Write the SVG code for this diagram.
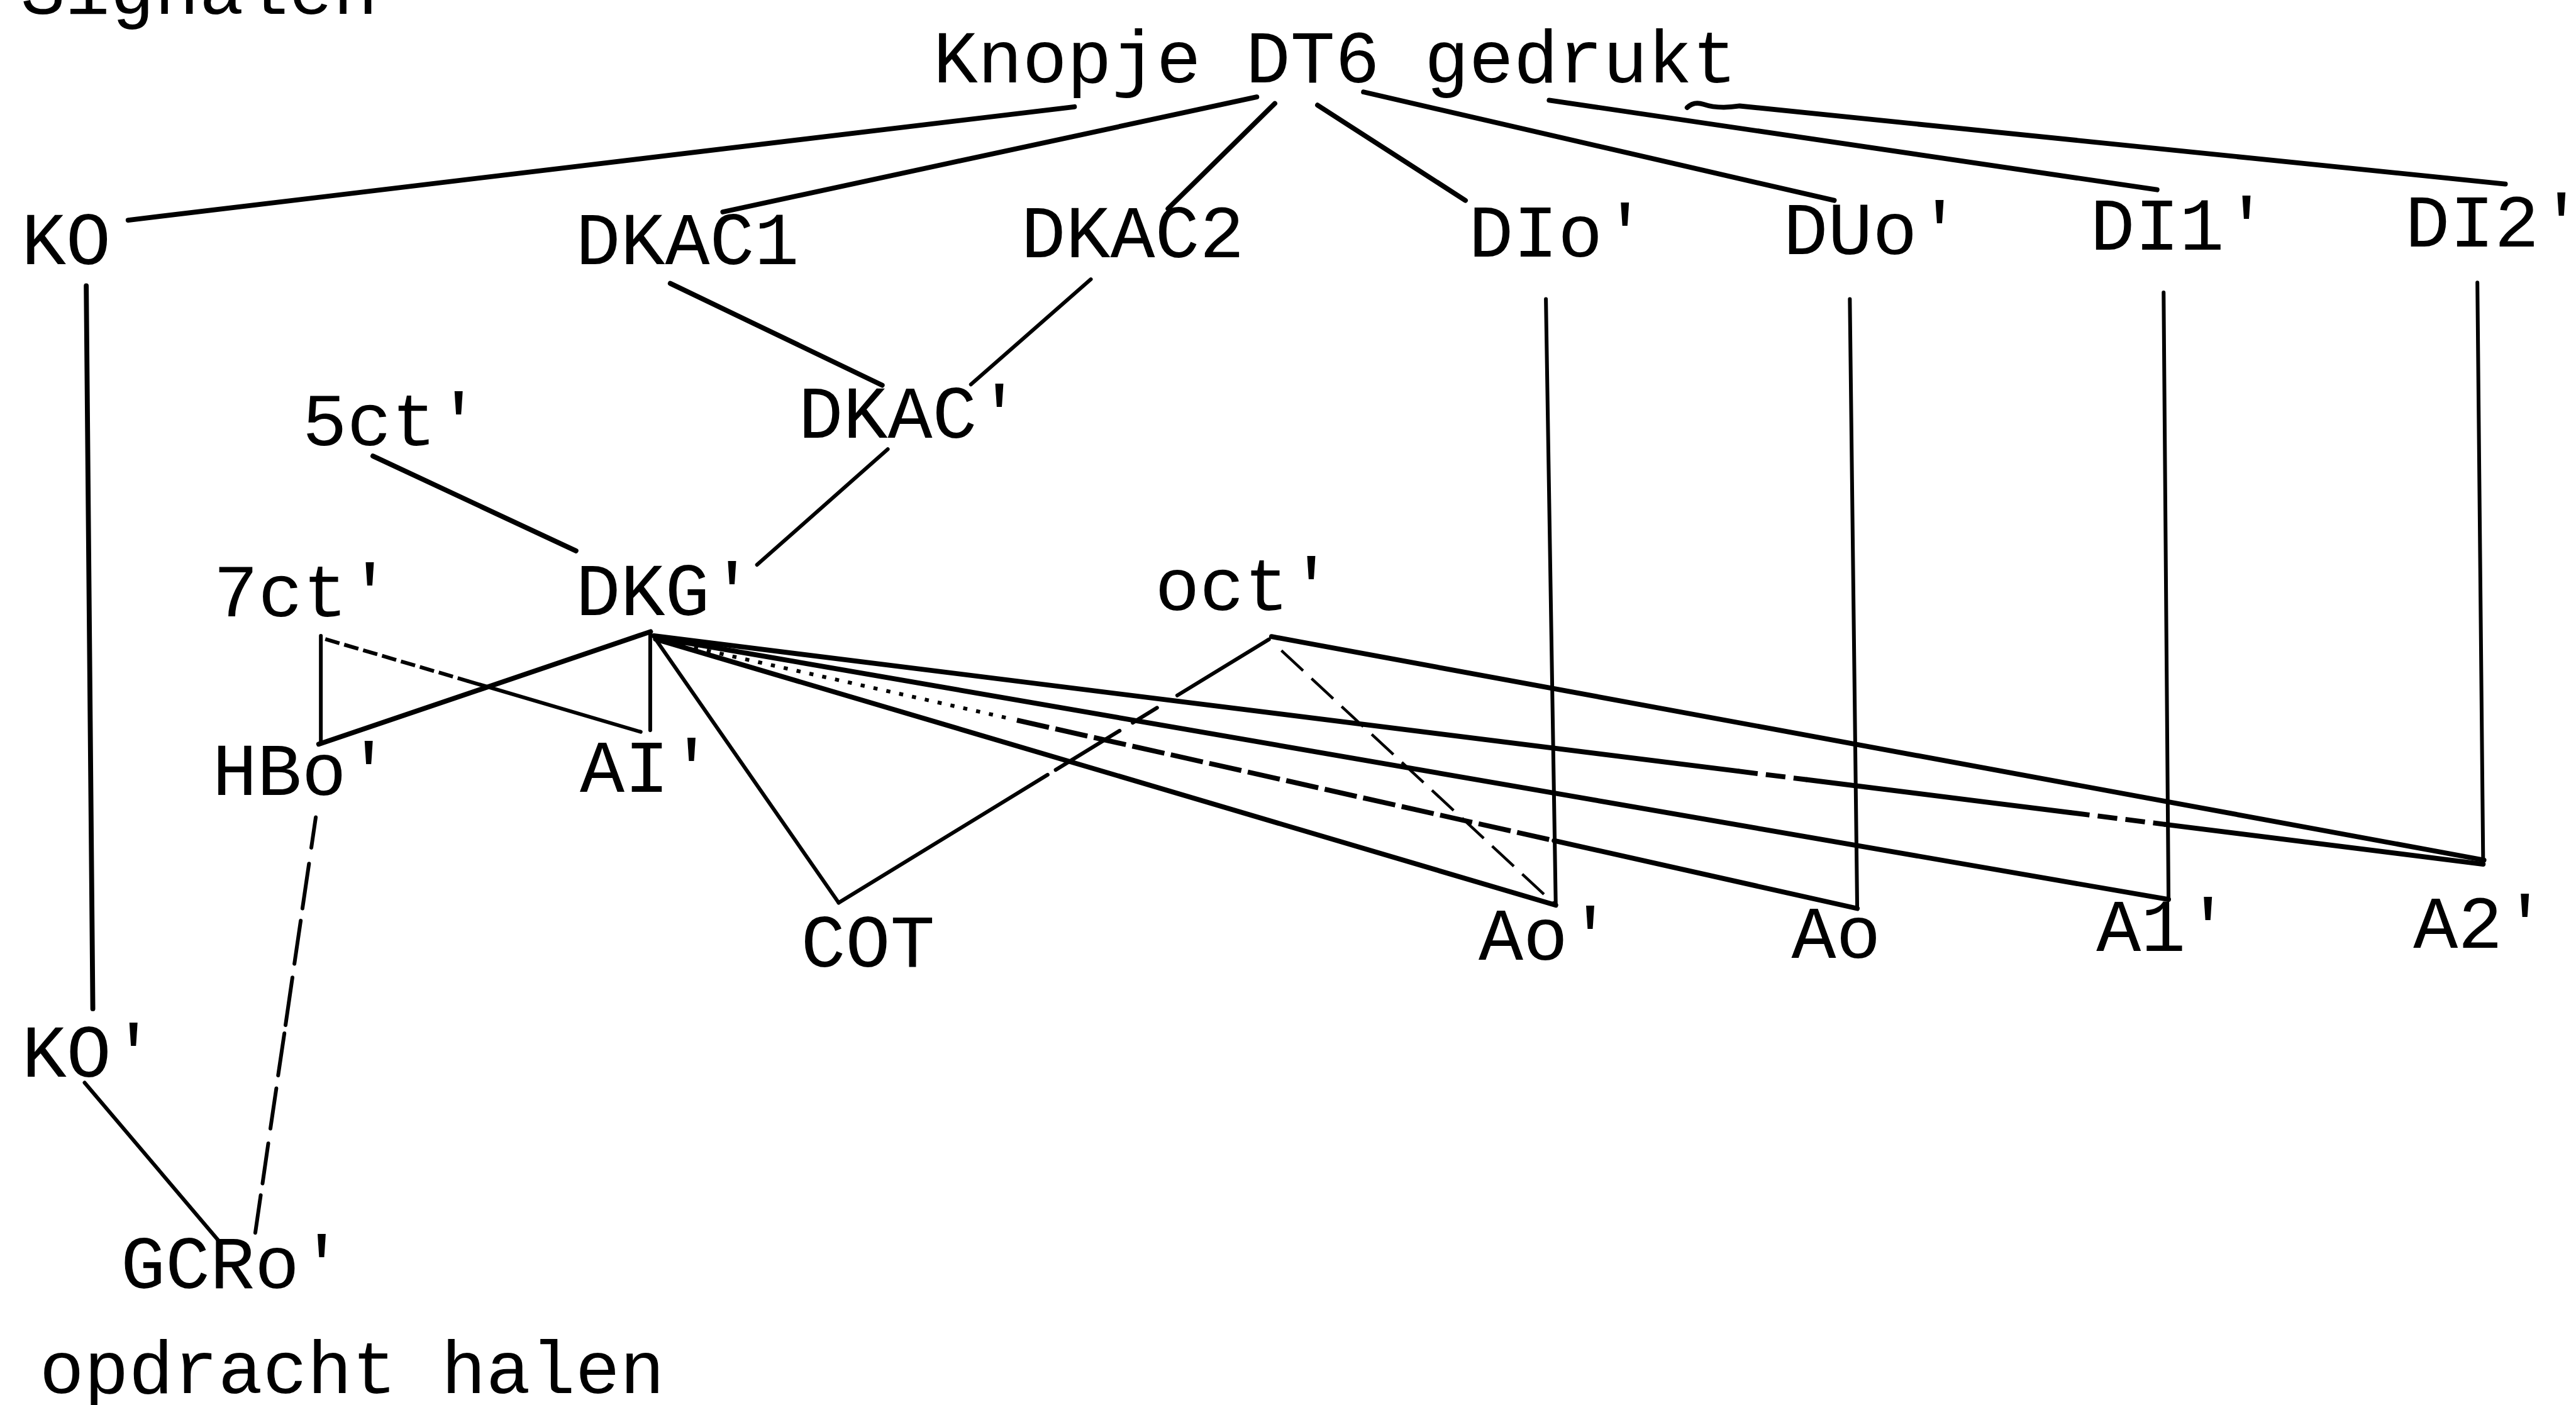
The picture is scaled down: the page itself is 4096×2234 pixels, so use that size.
<svg xmlns="http://www.w3.org/2000/svg" width="4096" height="2234" viewBox="0 0 4096 2234">
  <style>
    .t { font-family: 'Liberation Mono', 'Courier New', monospace; font-size: 45.3px; fill: #000; }
    .c path { fill: none; stroke: #000; stroke-linecap: round; stroke-linejoin: round; }
    .c .w3 { stroke-width: 3.0; }
    .c .w2 { stroke-width: 2.3; }
    .c .w1 { stroke-width: 1.7; }
    .c .dot { stroke-dasharray: 2.5 5.5; stroke-linecap: butt; }
    .c .dash { stroke-dasharray: 18 7; stroke-linecap: butt; }
    .c .dashs { stroke-dasharray: 9 3; stroke-linecap: butt; }
    .c .dashl { stroke-dasharray: 20 4; stroke-linecap: butt; }
    .c .dashm { stroke-dasharray: 12 5; stroke-linecap: butt; }
  </style>
  <rect width="4096" height="2234" fill="#fff"/>
  <g transform="scale(2.6122)">
    <!-- connectors -->
    <g id="connectors" class="c">
      <!-- fan from "Knopje DT6 gedrukt" -->
      <path class="w3" d="M78,134 L654,65"/>
      <path class="w3" d="M440,129 L765,59"/>
      <path class="w3" d="M711,127 L776,63"/>
      <path class="w3" d="M802,64 L892,122"/>
      <path class="w3" d="M830,56 L1116.5,122"/>
      <path class="w3" d="M943,61 L1313,115.5"/>
      <path class="w3" d="M1027,65.5 Q1031,61.5 1037,63.5 Q1046,66.5 1059,64.5 L1525,112"/>
      <!-- verticals -->
      <path class="w3" d="M52.5,174 L56.5,614"/>
      <path class="w2" d="M941,182 L947,551"/>
      <path class="w2" d="M1126,182 L1130.5,553"/>
      <path class="w2" d="M1317,178 L1320,547.5"/>
      <path class="w2" d="M1508,172 L1511.5,524"/>
      <!-- DKAC1 / DKAC2 -> DKAC' -> DKG' ; 5ct' -> DKG' -->
      <path class="w3" d="M408,172.5 L537,234.5"/>
      <path class="w2" d="M664,170 L591,234"/>
      <path class="w3" d="M227,277.6 L350.6,335.3"/>
      <path class="w2" d="M540.4,273.4 L460.8,343.8"/>
      <!-- 7ct' / HBo' / AI' bow -->
      <path class="w2" d="M195.3,387 L195.3,451"/>
      <path class="w3" d="M194,453 L396,384.5"/>
      <path class="w2 dashs" d="M198,389 L285,414.6"/>
      <path class="w2" d="M285,414.6 L390,445.5"/>
      <path class="w2" d="M395.8,386 L395.8,444.5"/>
      <!-- DKG' -> COT -> oct' -->
      <path class="w2" d="M399,389 L510.5,549.5"/>
      <path class="w2" d="M510.5,549.5 L637.7,471.6 M642.6,468.6 L681.5,444.8 M689.5,439.9 L704.3,430.8 M716.6,423.3 L772.4,389.2"/>
      <!-- DKG' fan to the A outputs -->
      <path class="w3" d="M399,389 L947,551"/>
      <path class="w2 dot" d="M399,389 L613,437"/>
      <path class="w3 dashl" d="M619,438.4 L946,511.7"/>
      <path class="w3" d="M946,511.7 L1130.5,553"/>
      <path class="w3" d="M399,388 L1320,547.5"/>
      <path class="w3" d="M398,387 L1058,469.4"/>
      <path class="w3 dashm" d="M1058,469.4 L1100,474.6"/>
      <path class="w3" d="M1100,474.6 L1260,494.6"/>
      <path class="w3 dashm" d="M1260,494.6 L1318,501.8"/>
      <path class="w3" d="M1318,501.8 L1511.5,526"/>
      <!-- oct' -> A2', oct' -> Ao' -->
      <path class="w3" d="M774,387.5 L1512,523.5"/>
      <path class="w1 dash" d="M780,396 L946.5,550.5"/>
      <!-- KO' -> GCRo', HBo' -> GCRo' -->
      <path class="w2" d="M51.5,659 L134.6,757"/>
      <path class="w2" d="M192.2,497.5 L189.5,516 M188.1,525.7 L184.1,553 M183.05,560.4 L179.2,586.7 M178,595 L173.8,624 M173.1,629 L169.3,654.6 M168.2,662.5 L164.6,687 M163.3,696 L159.8,720.4 M158.7,727.5 L155.4,750.4"/>
    </g>
    <!-- labels -->
    <g id="title-signalen"><text class="t" x="12.5" y="8.5">Signalen</text></g>
    <g id="node-DT6"><text class="t" x="568" y="50.2">Knopje DT6 gedrukt</text></g>
    <g id="node-KO"><text class="t" x="13" y="160.8">KO</text></g>
    <g id="node-DKAC1"><text class="t" x="350.5" y="160.7">DKAC1</text></g>
    <g id="node-DKAC2"><text class="t" x="621.5" y="156.4">DKAC2</text></g>
    <g id="node-DIo"><text class="t" x="894" y="156">DIo'</text></g>
    <g id="node-DUo"><text class="t" x="1085.5" y="154.8">DUo'</text></g>
    <g id="node-DI1"><text class="t" x="1272.3" y="152.1">DI1'</text></g>
    <g id="node-DI2"><text class="t" x="1464" y="150">DI2'</text></g>
    <g id="node-5ct"><text class="t" x="184" y="270.9">5ct'</text></g>
    <g id="node-DKAC"><text class="t" x="486" y="266.6">DKAC'</text></g>
    <g id="node-7ct"><text class="t" x="130" y="375.3">7ct'</text></g>
    <g id="node-DKG"><text class="t" x="350.5" y="374.3">DKG'</text></g>
    <g id="node-oct"><text class="t" x="703" y="371.4">oct'</text></g>
    <g id="node-HBo"><text class="t" x="129.3" y="483.7">HBo'</text></g>
    <g id="node-AI"><text class="t" x="353" y="482.1">AI'</text></g>
    <g id="node-COT"><text class="t" x="487.5" y="588.4">COT</text></g>
    <g id="node-Ao1"><text class="t" x="900" y="584">Ao'</text></g>
    <g id="node-Ao"><text class="t" x="1090.5" y="583">Ao</text></g>
    <g id="node-A1"><text class="t" x="1276" y="579">A1'</text></g>
    <g id="node-A2"><text class="t" x="1469" y="577">A2'</text></g>
    <g id="node-KO1"><text class="t" x="13.3" y="655.5">KO'</text></g>
    <g id="node-GCRo"><text class="t" x="73.5" y="784">GCRo'</text></g>
    <g id="title-opdracht"><text class="t" x="24" y="848">opdracht halen</text></g>
  </g>
</svg>
